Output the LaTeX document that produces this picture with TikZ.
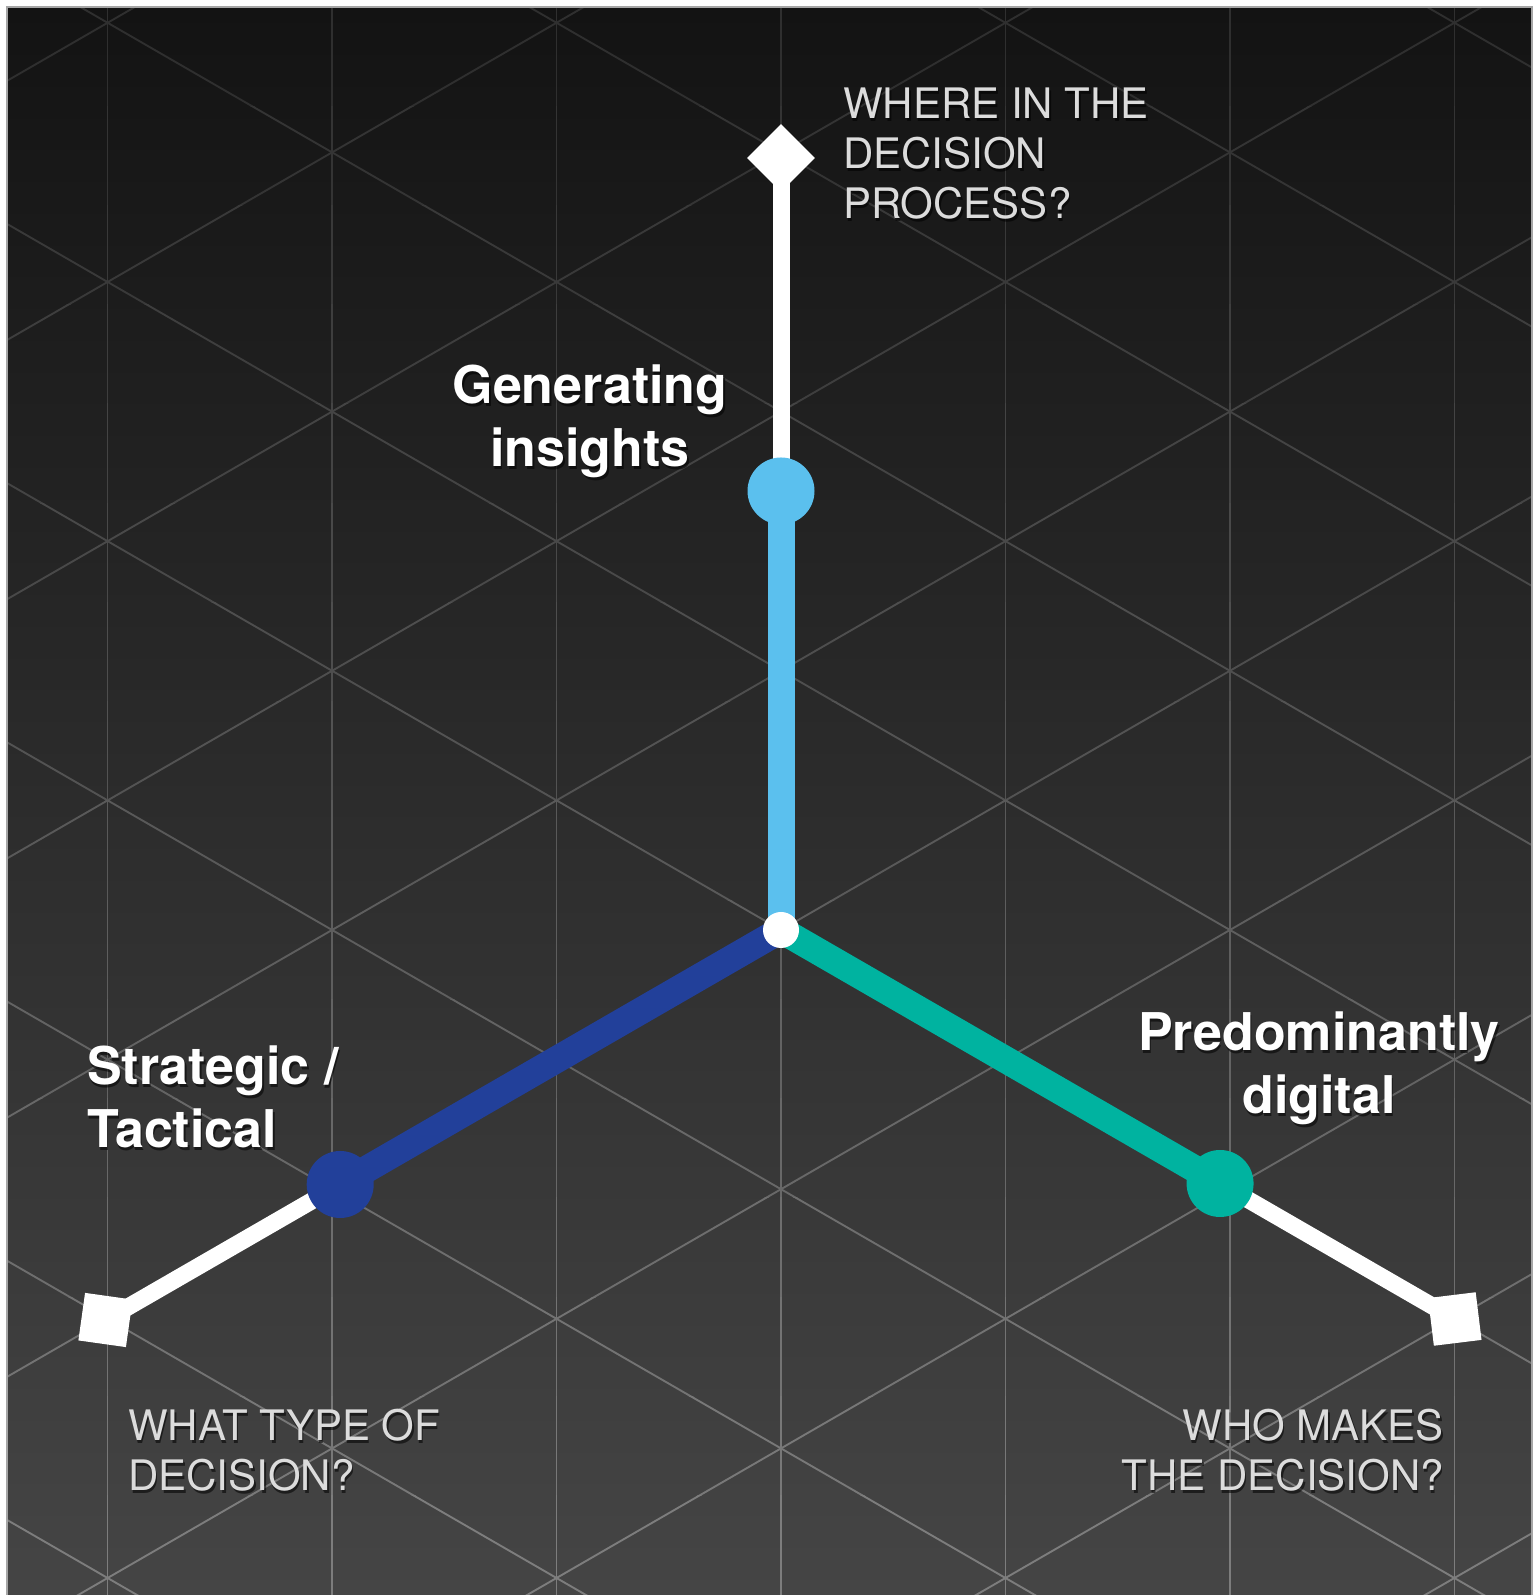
\documentclass[tikz,border=0pt]{standalone}
\usepackage{fontspec}
\setmainfont{TeX Gyre Heros}
\usetikzlibrary{backgrounds}

\definecolor{bgtop}{HTML}{131313}
\definecolor{bgbot}{HTML}{454545}
\definecolor{gridtop}{HTML}{2C2C2C}
\definecolor{gridbot}{HTML}{808080}
\definecolor{insightblue}{HTML}{5BC0EE}
\definecolor{strategyblue}{HTML}{22409A}
\definecolor{digitalgreen}{HTML}{00B3A0}
\definecolor{questiongray}{HTML}{DCDCDC}

\pgfdeclarelayer{grid}
\pgfdeclarelayer{axes}
\pgfsetlayers{grid,axes,main}

\tikzset{
  gridline/.style={line width=1.9pt},
  axisline/.style={draw=white, line width=17pt},
  levelline/.style={line width=27pt},
  level/.style={circle, minimum size=67pt, inner sep=0pt},
  endmark/.style={fill=white, minimum size=48pt, inner sep=0pt},
  hubdot/.style={circle, fill=white, minimum size=36pt, inner sep=0pt},
  question/.style={text=questiongray, font=\fontsize{42}{50}\selectfont, inner sep=0pt},
  answer/.style={text=white, font=\fontsize{52}{63}\selectfont\bfseries, inner sep=0pt, align=center},
  textshade/.style={text=black, text opacity=0.55},
}

\newcommand\shadedlabel[4]{%
  \node[#2, textshade, shift={(1.5pt,-2.5pt)}] (#1-sh) at (#3) {#4};
  \node[#2] (#1) at (#3) {#4};}

\begin{document}
\begin{tikzpicture}[x=1pt,y=1pt]
\useasboundingbox (0,0) rectangle (1535,1595);

\begin{pgfonlayer}{grid}
\shade[top color=bgtop, bottom color=bgbot] (7,0) rectangle (1532,1588);
\begin{scope}
\clip (7,0) rectangle (1532,1588);
\foreach \k in {0,...,15}{
  \pgfmathsetmacro\mix{(\k+0.5)*100/16}
  \begin{scope}
    \clip (0,{1588-(\k+1)*99.25}) rectangle (1535,{1588-\k*99.25});
    \begin{scope}[shift={(781,665)}, gridline, color=gridbot!\mix!gridtop]
      \foreach \i in {-3,...,3}
        \draw (\i*224.5,-700) -- (\i*224.5,950);
      \foreach \m in {-5,...,6}{
        \draw (-800,\m*259.2-461.9) -- (800,\m*259.2+461.9);
        \draw (-800,\m*259.2+461.9) -- (800,\m*259.2-461.9);
      }
    \end{scope}
  \end{scope}
}
\end{scope}
\draw[gray!70, line width=1.5pt] (7,0) -- (7,1588) -- (1532,1588) -- (1532,0);
\end{pgfonlayer}

\begin{scope}[shift={(781,665)}]
  \node[endmark, rotate=45] (where) at (90:772) {};
  \node[endmark, rotate=-8] (what) at (210:780) {};
  \node[endmark, rotate=7] (who) at (330:778) {};
  \node[level, fill=insightblue] (insights) at (90:439) {};
  \node[level, fill=strategyblue] (strategic) at (210:509) {};
  \node[level, fill=digitalgreen] (digital) at (330:507) {};
  \node[hubdot] (hub) at (0,0) {};
\end{scope}

\begin{pgfonlayer}{axes}
  \draw[axisline] (where.center) -- (insights.center);
  \draw[axisline] (what.center) -- (strategic.center);
  \draw[axisline] (who.center) -- (digital.center);
  \draw[levelline, insightblue] (hub.center) -- (insights.center);
  \draw[levelline, strategyblue] (hub.center) -- (strategic.center);
  \draw[levelline, digitalgreen] (hub.center) -- (digital.center);
\end{pgfonlayer}

\shadedlabel{whereq}{question, anchor=north west, align=left}{843,1507}{WHERE IN THE\\DECISION\\PROCESS?}
\shadedlabel{whatq}{question, anchor=north west, align=left}{128,186}{WHAT TYPE OF\\DECISION?}
\shadedlabel{whoq}{question, anchor=north east, align=right}{1444,186}{WHO MAKES\\THE DECISION?}

\shadedlabel{insightsl}{answer, anchor=north}{590,1230}{Generating\\insights}
\shadedlabel{strategicl}{answer, anchor=north west, align=left}{87,549}{Strategic /\\Tactical}
\shadedlabel{digitall}{answer, anchor=north}{1319,583}{Predominantly\\digital}
\end{tikzpicture}
\end{document}
